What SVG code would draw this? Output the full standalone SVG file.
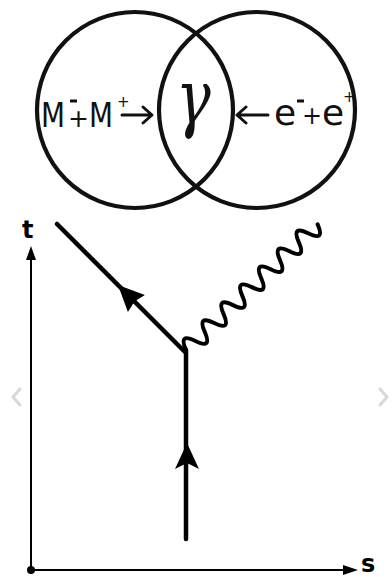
<svg xmlns="http://www.w3.org/2000/svg" width="392" height="577" viewBox="0 0 392 577">
<style>
.ring{fill:none;stroke:#111;stroke-width:4.2}
.hand{font-family:"DejaVu Sans",sans-serif;fill:#111}
.harrow{fill:none;stroke:#111;stroke-width:3;stroke-linecap:round;stroke-linejoin:round}
.fermion{fill:none;stroke:#000;stroke-width:4.5;stroke-linecap:round}
.axis{fill:none;stroke:#000;stroke-width:2}
.lbl{font-family:"DejaVu Sans",sans-serif;font-weight:bold;fill:#000}
.chev{fill:none;stroke:#d8d8d8;stroke-width:3;stroke-linecap:round;stroke-linejoin:round}
</style>
<rect width="392" height="577" fill="#fff"/>
<g id="circle-left"><circle class="ring" cx="135" cy="110" r="98"/></g>
<g id="circle-right"><circle class="ring" cx="257" cy="110" r="98"/></g>
<g id="label-left">
<text class="hand" x="41" y="127" font-size="33" textLength="24" lengthAdjust="spacingAndGlyphs">M</text>
<text class="hand" x="68" y="127" font-size="25">+</text>
<line x1="70" y1="101" x2="77" y2="101" stroke="#111" stroke-width="3"/>
<text class="hand" x="89" y="127" font-size="33" textLength="24" lengthAdjust="spacingAndGlyphs">M</text>
<text class="hand" x="117" y="107" font-size="15">+</text>
</g>
<g id="label-gamma">
<text class="hand" x="176" y="95" font-size="58" transform="scale(1,1.3)" style="font-family:'DejaVu Serif',serif;font-style:italic">γ</text>
</g>
<g id="label-right">
<text class="hand" x="274" y="125" font-size="36">e</text>
<line x1="297" y1="101" x2="304" y2="101" stroke="#111" stroke-width="3"/>
<text class="hand" x="302" y="124" font-size="24">+</text>
<text class="hand" x="322" y="125" font-size="36">e</text>
<text class="hand" x="343" y="102" font-size="15">+</text>
</g>
<g id="connectors">
<path class="harrow" d="M122,115 H152 M143,107 L152,115 L143,123"/>
<path class="harrow" d="M268,115 H237 M246,107 L237,115 L246,123"/>
<line class="fermion" x1="185" y1="352" x2="57" y2="224"/>
<line class="fermion" x1="186" y1="350" x2="186" y2="539"/>
<polygon points="118,285 144.9,294.9 134.5,301.5 127.9,311.9" fill="#000"/>
<polygon points="187,443 199,469 187,463 175,469" fill="#000"/>
<g transform="translate(186,350) rotate(-43.67)">
<path fill="none" stroke="#000" stroke-width="4" stroke-linecap="round" d="M0,0 q6.5,-18 13,0 t13,0 t13,0 t13,0 t13,0 t13,0 t13,0 t13,0 t13,0 t13,0 t13,0 t13,0 t13,0 t13,0"/>
</g>
</g>
<g id="axes">
<line class="axis" x1="31" y1="570" x2="31" y2="255"/>
<polygon points="31,246 36,260 26,260" fill="#000"/>
<line class="axis" x1="31" y1="570" x2="346" y2="570"/>
<polygon points="358,570 343,565 343,575" fill="#000"/>
<circle cx="31" cy="570" r="4" fill="#000"/>
<text class="lbl" x="22" y="238" font-size="24">t</text>
<text class="lbl" x="361" y="572" font-size="24">s</text>
</g>
<g id="nav">
<polyline class="chev" points="20,389 13,397 20,405"/>
<polyline class="chev" points="380,389 387,397 380,405"/>
</g>
</svg>
